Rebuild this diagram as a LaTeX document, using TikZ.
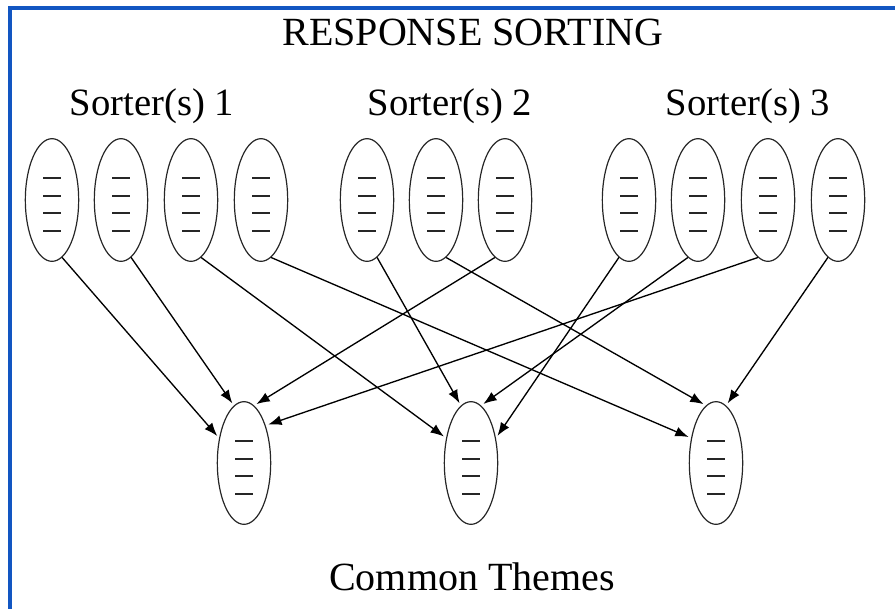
\documentclass[tikz,border=0pt]{standalone}
\usepackage{fontspec}
\setmainfont{Liberation Serif}
\usepackage{tikz}
\usetikzlibrary{shapes.geometric,arrows.meta}
\definecolor{frameblue}{RGB}{18,86,194}

\begin{document}
\begin{tikzpicture}[x=0.75pt,y=-0.75pt,
    resp/.style={draw=black!85, line width=0.9pt, ellipse, minimum width=40pt, minimum height=92pt, inner sep=0pt,
      path picture={\foreach \k in {-22,-4,13,31} \draw[line width=1pt,shift={(path picture bounding box.center)}] (-9,\k) -- (9,\k);}},
    link/.style={-{Latex[length=10pt,width=7.5pt]}, line width=1pt, shorten >=2pt},
    lbl/.style={font=\fontsize{29}{35}\selectfont, anchor=base, inner sep=0pt},
    head/.style={lbl, font=\fontsize{30}{36}\selectfont}]
  \useasboundingbox (0,0) rectangle (895,608);
  \clip (0,0) rectangle (895,608);
  \draw[frameblue, line width=3pt] (10,8) rectangle (920,640);

  % headings
  \node[head] (title) at (473,45) {RESPONSE SORTING};
  \node[lbl] (sorter1) at (152,115) {Sorter(s) 1};
  \node[lbl] (sorter2) at (450,115) {Sorter(s) 2};
  \node[lbl] (sorter3) at (748,115) {Sorter(s) 3};
  \node[head] (common) at (472,590) {Common Themes};

  % sorted piles
  \node[resp] (a1) at (52,200) {};
  \node[resp] (a2) at (121,200) {};
  \node[resp] (a3) at (191,200) {};
  \node[resp] (a4) at (261,200) {};
  \node[resp] (b1) at (367,200) {};
  \node[resp] (b2) at (436,200) {};
  \node[resp] (b3) at (505,200) {};
  \node[resp] (c1) at (629,200) {};
  \node[resp] (c2) at (698,200) {};
  \node[resp] (c3) at (768,200) {};
  \node[resp] (c4) at (838,200) {};

  % themes
  \node[resp] (t1) at (244,463) {};
  \node[resp] (t2) at (471,463) {};
  \node[resp] (t3) at (716,463) {};

  \draw[link] (a1.-80) -- (t1.135);
  \draw[link] (a2.-80) -- (t1.100);
  \draw[link] (a3.-80) -- (t2.135);
  \draw[link] (a4.-80) -- (t3.135);
  \draw[link] (b1.-80) -- (t2.100);
  \draw[link] (b2.-80) -- (t3.100);
  \draw[link] (b3.-100) -- (t1.80);
  \draw[link] (c1.-100) -- (t2.45);
  \draw[link] (c2.-100) -- (t2.80);
  \draw[link] (c3.-100) -- (t1.60);
  \draw[link] (c4.-100) -- (t3.80);
\end{tikzpicture}
\end{document}
